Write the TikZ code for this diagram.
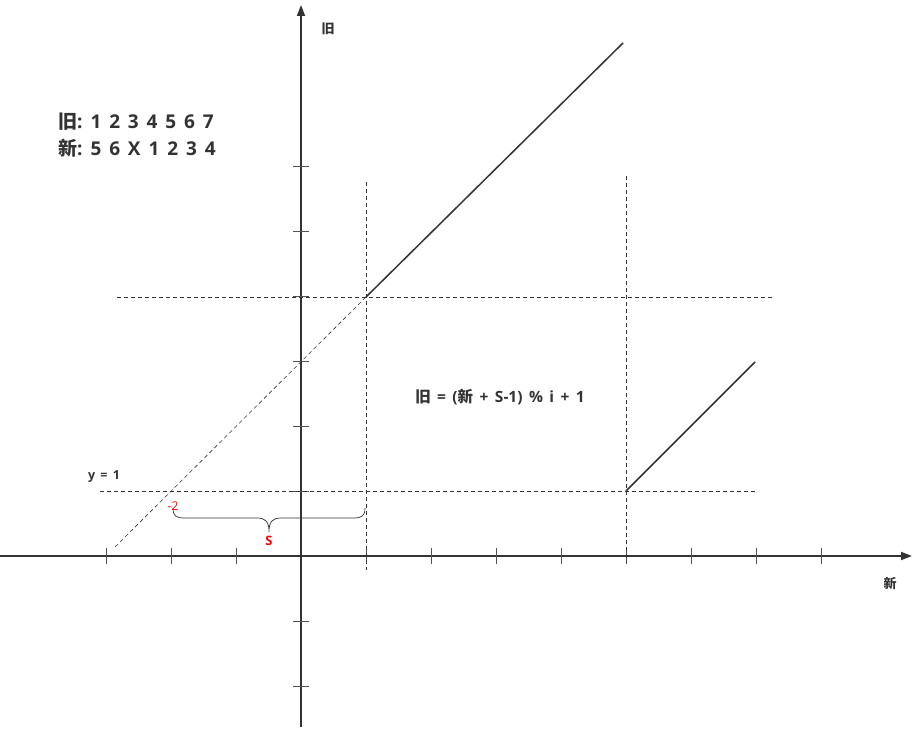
\documentclass[tikz,border=0pt]{standalone}
\usepackage{fontspec}
\setmainfont{Open Sans}[WordSpace=1.6]
\newfontfamily\cjk{Noto Sans CJK SC}
\newcommand\jiu{{\cjk 旧}}
\newcommand\xin{{\cjk 新}}
\usetikzlibrary{arrows.meta}
\definecolor{ink}{HTML}{333333}
\definecolor{redtxt}{HTML}{FF0000}
\frenchspacing
\begin{document}
\begin{tikzpicture}[x=1pt,y=-1pt,
  axisline/.style={draw=ink,line width=1.7pt,-{Triangle[length=11pt,width=8pt]}},
  tickmark/.style={draw=ink!85,line width=0.9pt},
  guide/.style={draw=ink,line width=0.6pt,dash pattern=on 4pt off 3pt},
  graphline/.style={draw=ink,line width=1.5pt},
  lbl/.style={text=ink,font=\bfseries,inner sep=0pt},
  redlbl/.style={text=redtxt,inner sep=0pt}]
\useasboundingbox (0,0) rectangle (919,743);
% axes
\coordinate (xs) at (0,556);
\coordinate (xe) at (912,556);
\coordinate (ys) at (301,727);
\coordinate (ye) at (301,5);
\draw[axisline] (xs) -- (xe);
\draw[axisline] (ys) -- (ye);
% x ticks
\foreach \i in {-3,-2,-1,1,2,3,4,5,6,7,8} {
  \draw[tickmark] ({301+65*\i},548) -- ({301+65*\i},564);
}
% y ticks
\foreach \j in {-2,-1,1,2,3,4,5,6} {
  \draw[tickmark] (293,{556-65*\j}) -- (309,{556-65*\j});
}
% guide lines
\coordinate (h4a) at (117,297); \coordinate (h4b) at (773,297);
\coordinate (h1a) at (100,491); \coordinate (h1b) at (755,491);
\coordinate (v1a) at (366,182); \coordinate (v1b) at (366,570);
\coordinate (v5a) at (626,176); \coordinate (v5b) at (626,563);
\draw[guide] (h4a) -- (h4b);
\draw[guide] (h1a) -- (h1b);
\draw[guide] (v1a) -- (v1b);
\draw[guide] (v5a) -- (v5b);
% graph lines
\coordinate (p1) at (366,297);
\coordinate (p2) at (623,43);
\coordinate (p0) at (113,549);
\coordinate (q1) at (626,491);
\coordinate (q2) at (755,362);
\draw[graphline] (p1) -- (p2);
\draw[guide] (p1) -- (p0);
\draw[graphline] (q1) -- (q2);
% brace
\coordinate (bl) at (173,508);
\coordinate (br) at (365,508);
\coordinate (bt) at (269,532);
\draw[draw=ink,line width=0.7pt] (bl) .. controls (173,516) and (176,518) .. (185,518)
  -- (257,518) .. controls (266,518) and (269,522) .. (bt)
  .. controls (269,522) and (272,518) .. (281,518)
  -- (353,518) .. controls (362,518) and (365,516) .. (br);
% texts
\node[lbl,font=\bfseries\fontsize{13}{13}\selectfont] (oldax) at (328,29) {\jiu};
\node[lbl,font=\bfseries\fontsize{13}{13}\selectfont] (newax) at (890,583) {\xin};
\node[lbl,anchor=west,font=\bfseries\fontsize{19}{19}\selectfont] (row1) at (58,122) {\jiu: 1 2 3 4 5 6 7};
\node[lbl,anchor=west,font=\bfseries\fontsize{19}{19}\selectfont] (row2) at (58,148) {\xin: 5 6 X 1 2 3 4};
\node[lbl,font=\bfseries\fontsize{15.5}{15.5}\selectfont] (formula) at (500,397) {\jiu{} = (\xin{} + S-1) \% i + 1};
\node[lbl,font=\bfseries\fontsize{12.5}{12.5}\selectfont] (y1) at (104,477) {y = 1};
\node[redlbl,font=\fontsize{12}{12}\selectfont] (m2) at (173,506) {-2};
\node[redlbl,font=\bfseries\fontsize{13}{13}\selectfont] (S) at (269,541) {S};
\end{tikzpicture}
\end{document}
